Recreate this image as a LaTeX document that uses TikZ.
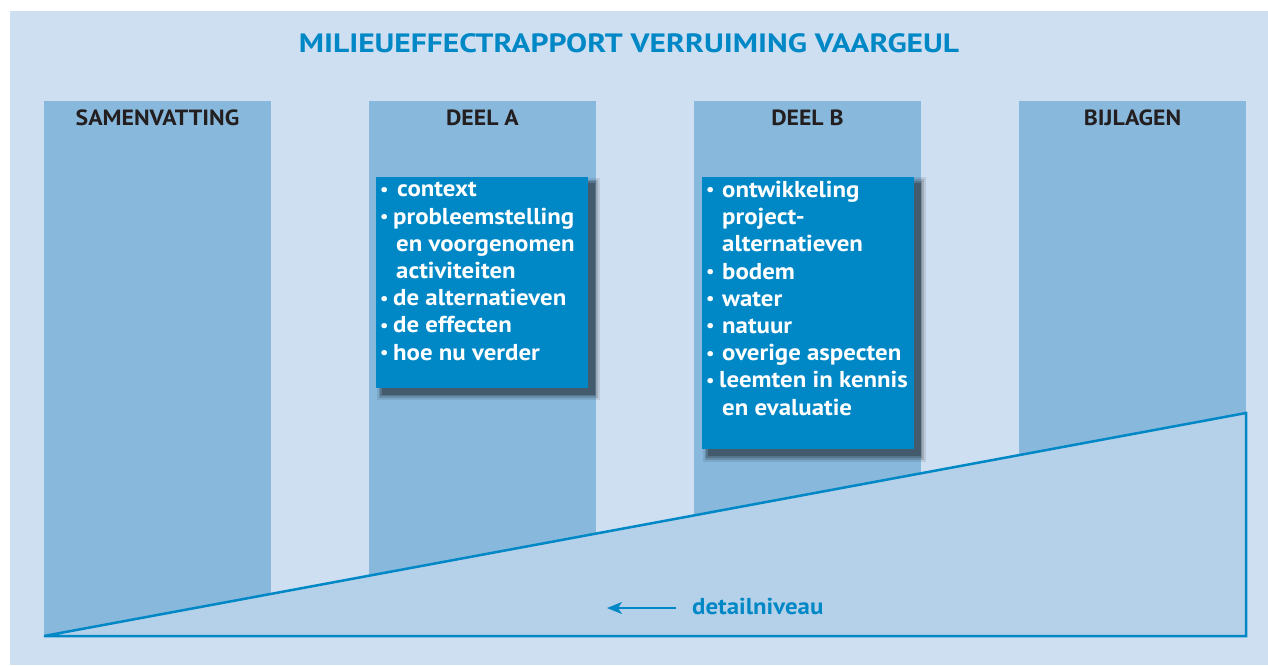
\documentclass[tikz,border=0pt]{standalone}
\usepackage{fontspec}
\setmainfont[FakeStretch=1.08]{PT Sans}
\newfontfamily\titlefont[FakeStretch=1.19]{PT Sans}
\usetikzlibrary{shadows}
\usetikzlibrary{arrows.meta}
\definecolor{bgblue}{HTML}{CDDFF0}
\definecolor{colblue}{HTML}{88B8DC}
\definecolor{wedgeblue}{HTML}{B5D1E9}
\definecolor{merblue}{HTML}{0088C6}
\definecolor{headblack}{HTML}{231F20}
\newcommand{\bul}[1]{\makebox[#1][l]{\raisebox{1.5pt}{\scalebox{0.75}{\textbullet}}}}
\newcommand{\ind}[1]{\hspace*{#1}}
\tikzstyle{report}=[x=1pt, y=-1pt]
\tikzstyle{column}=[rectangle, fill=colblue, inner sep=0pt, minimum width=227pt, minimum height=535pt, anchor=north west]
\tikzstyle{head}=[inner sep=0pt, anchor=base, text=headblack, font=\fontsize{22}{25}\selectfont\bfseries]
\tikzstyle{part}=[rectangle, fill=merblue, inner sep=0pt, anchor=north west, minimum width=212pt,
	drop shadow={shadow xshift=6pt, shadow yshift=-6pt, shadow scale=1.05, opacity=0.09, fill=black},
	drop shadow={shadow xshift=6pt, shadow yshift=-6pt, shadow scale=1.035, opacity=0.14, fill=black},
	drop shadow={shadow xshift=6pt, shadow yshift=-6pt, shadow scale=1.02, opacity=0.18, fill=black},
	drop shadow={shadow xshift=6pt, shadow yshift=-6pt, shadow scale=1.005, opacity=0.22, fill=black}]
\tikzstyle{items}=[inner sep=0pt, anchor=base west, align=left, text=white, font=\fontsize{23}{27.2}\selectfont\bfseries]
\tikzstyle{wedge}=[draw=merblue, fill=wedgeblue, line width=2.5pt, line join=miter]
\tikzstyle{edge}=[-{Stealth[length=15pt, width=12pt, inset=4pt]}, draw=merblue, fill=merblue, line width=1.5pt]
\tikzstyle{label}=[inner sep=0pt, anchor=base west, text=merblue, font=\fontsize{23}{25}\selectfont\bfseries]

\begin{document}
\begin{tikzpicture}[report]
	\useasboundingbox (0,0) rectangle (1268,665);
	\fill[bgblue] (10,11) rectangle (1268,665);

	%The title
	\draw (629,52) node[inner sep=0pt, anchor=base, text=merblue, font=\titlefont\fontsize{26.5}{30}\selectfont\bfseries] (title) {MILIEUEFFECTRAPPORT VERRUIMING VAARGEUL};

	%The four columns
	\draw (44,101) node[column] (c1) {};
	\draw (369,101) node[column] (c2) {};
	\draw (694,101) node[column] (c3) {};
	\draw (1019,101) node[column] (c4) {};

	\draw (157.5,125) node[head] (h1) {SAMENVATTING};
	\draw (482.5,125) node[head] (h2) {DEEL A};
	\draw (807.5,125) node[head] (h3) {DEEL B};
	\draw (1132.5,125) node[head] (h4) {BIJLAGEN};

	%The contents of part A and part B
	\draw (376,177) node[part, minimum height=211pt] (pa) {};
	\draw (702,177) node[part, minimum height=272pt] (pb) {};

	% base west is the baseline of the last line
	\draw (380,360) node[items] (ta) {\bul{13pt}\ind{4pt}context\\
		\bul{13pt}probleemstelling\\
		\ind{16pt}en voorgenomen\\
		\ind{16pt}activiteiten\\
		\bul{13pt}de alternatieven\\
		\bul{13pt}de effecten\\
		\bul{13pt}hoe nu verder};
	\draw (706,415) node[items] (tb) {\bul{16pt}ontwikkeling\\
		\ind{16pt}project-\\
		\ind{16pt}alternatieven\\
		\bul{16pt}bodem\\
		\bul{16pt}water\\
		\bul{16pt}natuur\\
		\bul{16pt}overige aspecten\\
		\bul{13pt}leemten in kennis\\
		\ind{16pt}en evaluatie};

	%The detail wedge
	\draw[wedge] (44,636) -- (1246,413) -- (1246,636) -- cycle;

	\draw (692,614) node[label] (detail) {detailniveau};
	\coordinate (arrowend) at (607,608);
	\draw[edge] ([shift={(-16pt,6pt)}]detail.base west) -- (arrowend);
\end{tikzpicture}
\end{document}
